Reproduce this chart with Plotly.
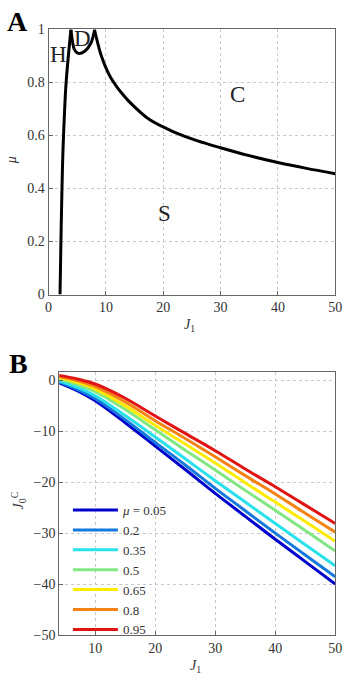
import plotly.graph_objects as go

# ---------- Panel A: phase boundaries (J1, mu) ----------
left_J1 = [2.0, 2.2, 2.45, 2.65, 3.0, 3.45, 3.9]
left_mu = [0.0, 0.25, 0.5, 0.62, 0.78, 0.9, 1.0]

arc_J1 = [3.9, 4.5, 5.2, 6.3, 7.4, 8.05]
arc_mu = [1.0, 0.925, 0.91, 0.918, 0.949, 1.0]

right_J1 = [8.0, 8.56, 9.12, 9.97, 10.8, 11.94, 13.07, 14.19, 17.6, 22.0, 26.0, 30.0, 35.0, 40.0, 45.0, 50.0]
right_mu = [1.0, 0.95, 0.906, 0.857, 0.820, 0.783, 0.752, 0.725, 0.660, 0.612, 0.580, 0.554, 0.524, 0.498, 0.476, 0.456]

region_labels = ["H", "D", "C", "S"]
region_J1 = [1.75, 5.9, 32.9, 20.2]
region_mu = [0.906, 0.965, 0.755, 0.304]

# ---------- Panel B: J0^C vs J1 for several mu ----------
J1_b = [4, 7, 10, 15, 20, 25, 30, 35, 40, 45, 50]
mu_labels = ["<i>μ</i> = 0.05", "0.2", "0.35", "0.5", "0.65", "0.8", "0.95"]
J0C = [
    [-0.5, -2.0, -4.0, -8.3, -12.9, -17.5, -22.2, -26.7, -31.2, -35.6, -40.0],
    [-0.3, -1.75, -3.6, -7.7, -12.2, -16.6, -21.2, -25.6, -30.0, -34.3, -38.6],
    [-0.1, -1.35, -3.0, -6.9, -11.1, -15.4, -19.7, -23.9, -28.1, -32.3, -36.4],
    [0.3, -0.8, -2.2, -5.7, -9.7, -13.7, -17.6, -21.6, -25.5, -29.5, -33.5],
    [0.6, -0.4, -1.7, -5.0, -8.8, -12.5, -16.2, -20.1, -23.9, -27.7, -31.6],
    [0.8, 0.0, -1.2, -4.2, -7.9, -11.4, -15.0, -18.7, -22.3, -26.1, -29.8],
    [1.0, 0.3, -0.7, -3.5, -7.0, -10.4, -13.8, -17.4, -20.9, -24.5, -28.1],
]
colors = ["rgb(0,0,205)", "rgb(20,120,220)", "rgb(40,225,235)", "rgb(130,230,130)",
          "rgb(255,235,0)", "rgb(245,130,20)", "rgb(225,20,20)"]

W, H = 350, 683
fig = go.Figure()

for xs, ys in [(left_J1, left_mu), (arc_J1, arc_mu), (right_J1, right_mu)]:
    fig.add_trace(go.Scatter(x=xs, y=ys, mode="lines",
                             line=dict(color="black", width=3, shape="spline", smoothing=0.8),
                             xaxis="x", yaxis="y", showlegend=False, hoverinfo="skip"))

for lab, ys, c in zip(mu_labels, J0C, colors):
    fig.add_trace(go.Scatter(x=J1_b, y=ys, mode="lines", name=lab,
                             line=dict(color=c, width=3, shape="spline"),
                             xaxis="x2", yaxis="y2"))

serif = "Liberation Serif"
axis_common = dict(showline=True, mirror=True, linecolor="#666", linewidth=1,
                   showgrid=True, gridcolor="#c8c8c8", griddash="dot", gridwidth=1,
                   zeroline=False, ticks="inside", ticklen=4, tickcolor="#666",
                   tickfont=dict(family=serif, size=14, color="#333"))

fig.update_layout(
    width=W, height=H, margin=dict(l=0, r=0, t=0, b=0),
    paper_bgcolor="white", plot_bgcolor="white",
    xaxis=dict(domain=[46 / W, 342 / W], range=[0, 50], tickvals=[0, 10, 20, 30, 40, 50],
               anchor="y", **axis_common),
    yaxis=dict(domain=[1 - 294 / H, 1 - 23 / H], range=[0, 1], tickvals=[0, 0.2, 0.4, 0.6, 0.8, 1],
               ticktext=["0", "0.2", "0.4", "0.6", "0.8", "1"], anchor="x", **axis_common),
    xaxis2=dict(domain=[57 / W, 342 / W], range=[4, 50], tickvals=[10, 20, 30, 40, 50],
                anchor="y2", **axis_common),
    yaxis2=dict(domain=[1 - 642 / H, 1 - 373 / H], range=[-50, 1.7], tickvals=[0, -10, -20, -30, -40, -50],
                anchor="x2", **axis_common),
    legend=dict(x=66 / W, y=1 - 499 / H, xanchor="left", yanchor="top", bgcolor="rgba(0,0,0,0)",
                font=dict(family=serif, size=13, color="#333"), tracegroupgap=0, itemwidth=45),
    showlegend=True,
)

def ann(x, y, text, size, xref="paper", yref="paper", angle=0, color="#333"):
    return dict(x=x, y=y, xref=xref, yref=yref, text=text, showarrow=False,
                xanchor="center", yanchor="middle", textangle=angle,
                font=dict(family=serif, size=size, color=color))

annots = [ann(xv, yv, lab, 23, "x", "y", color="#222")
          for lab, xv, yv in zip(region_labels, region_J1, region_mu)]
annots += [
    ann(14 / W, 1 - 15 / H, "<b>A</b>", 28, color="black"),
    ann(15 / W, 1 - 365 / H, "<b>B</b>", 28, color="black"),
    ann(8 / W, 1 - 157 / H, "<i>μ</i>", 14, angle=-90),
    ann(192 / W, 1 - 326 / H, "<i>J</i><sub>1</sub>", 14),
    ann(198 / W, 1 - 674 / H, "<i>J</i><sub>1</sub>", 14),
    ann(15 / W, 1 - 505 / H, "<i>J</i><sub>0</sub><sup>C</sup>", 14, angle=-90),
]
fig.update_layout(annotations=annots)

fig.write_html("out.html")
